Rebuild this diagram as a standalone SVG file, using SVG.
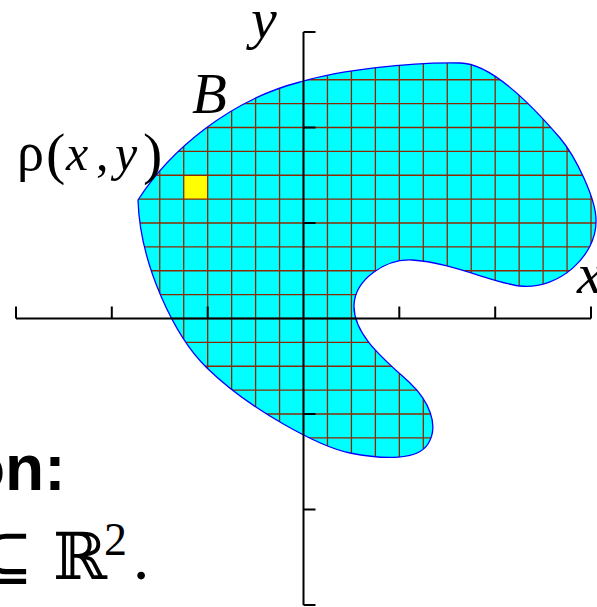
<svg xmlns="http://www.w3.org/2000/svg" width="597" height="607" viewBox="0 0 597 607">
<style>
.axis{stroke:#000;stroke-width:2;fill:none}
.grid line{stroke:#8b2a00;stroke-width:1.3}
.lbl{font-family:"Liberation Serif","DejaVu Serif",serif;font-style:italic;fill:#000}
.ser{font-family:"Liberation Serif","DejaVu Serif",serif;fill:#000}
.bold{font-family:"Liberation Sans",Arial,sans-serif;font-weight:bold;fill:#000}
</style>
<defs>
<path id="blobPath" d="M138,200 C170,150 230,100 300,82 C340,70 410,62 460,63 C490,63 530,103 560,138 C575,155.5 597,200 596,222 C596,255 560,290 520,286 C495,283.5 450,262 412,260 C385,258.6 355,280 354,305 C353,335 385,360 410,383 C428,400 440,425 428,444 C418,460 385,460 350,453 C320,447 250,410 207,368 C175,337 140,265 138,200 Z"/>
<clipPath id="blobClip"><use href="#blobPath"/></clipPath>
</defs>
<g id="region">
<use href="#blobPath" fill="#00ffff"/>
<rect x="183.7" y="175.25" width="23.96" height="23.875" fill="#ffff00"/>
<g class="grid" clip-path="url(#blobClip)">
<line x1="159.76" y1="40" x2="159.76" y2="480"/>
<line x1="183.72" y1="40" x2="183.72" y2="480"/>
<line x1="207.68" y1="40" x2="207.68" y2="480"/>
<line x1="231.64" y1="40" x2="231.64" y2="480"/>
<line x1="255.6" y1="40" x2="255.6" y2="480"/>
<line x1="279.56" y1="40" x2="279.56" y2="480"/>
<line x1="303.5" y1="40" x2="303.5" y2="480"/>
<line x1="327.46" y1="40" x2="327.46" y2="480"/>
<line x1="351.42" y1="40" x2="351.42" y2="480"/>
<line x1="375.38" y1="40" x2="375.38" y2="480"/>
<line x1="399.34" y1="40" x2="399.34" y2="480"/>
<line x1="423.3" y1="40" x2="423.3" y2="480"/>
<line x1="447.26" y1="40" x2="447.26" y2="480"/>
<line x1="471.22" y1="40" x2="471.22" y2="480"/>
<line x1="495.18" y1="40" x2="495.18" y2="480"/>
<line x1="519.14" y1="40" x2="519.14" y2="480"/>
<line x1="543.1" y1="40" x2="543.1" y2="480"/>
<line x1="567.06" y1="40" x2="567.06" y2="480"/>
<line x1="591.02" y1="40" x2="591.02" y2="480"/>
<line x1="120" y1="79.75" x2="600" y2="79.75"/>
<line x1="120" y1="103.63" x2="600" y2="103.63"/>
<line x1="120" y1="127.5" x2="600" y2="127.5"/>
<line x1="120" y1="151.38" x2="600" y2="151.38"/>
<line x1="120" y1="175.25" x2="600" y2="175.25"/>
<line x1="120" y1="199.13" x2="600" y2="199.13"/>
<line x1="120" y1="223" x2="600" y2="223"/>
<line x1="120" y1="246.88" x2="600" y2="246.88"/>
<line x1="120" y1="270.75" x2="600" y2="270.75"/>
<line x1="120" y1="294.63" x2="600" y2="294.63"/>
<line x1="120" y1="318.5" x2="600" y2="318.5"/>
<line x1="120" y1="342.38" x2="600" y2="342.38"/>
<line x1="120" y1="366.25" x2="600" y2="366.25"/>
<line x1="120" y1="390.13" x2="600" y2="390.13"/>
<line x1="120" y1="414" x2="600" y2="414"/>
<line x1="120" y1="437.88" x2="600" y2="437.88"/>
</g>
<use href="#blobPath" fill="none" stroke="#0000ff" stroke-width="1.3"/>
</g>
<g id="axes">
<path class="axis" d="M16,318.5 H591 M16,318.5 V306.5 M111.8,318.5 V306.5 M207.7,318.5 V306.5 M399.3,318.5 V306.5 M495.2,318.5 V306.5 M591,318.5 V306.5"/>
<path class="axis" d="M303.5,32 V605 M303.5,32 H315.5 M303.5,127.5 H315.5 M303.5,223 H315.5 M303.5,414 H315.5 M303.5,509.5 H315.5 M303.5,605 H315.5"/>
</g>
<g id="labels">
<text class="lbl" x="251" y="38" font-size="58">y</text>
<text class="lbl" x="192" y="113" font-size="57">B</text>
<text class="lbl" x="577" y="293" font-size="58">x</text>
<text class="ser" y="170" font-size="50"><tspan x="17" font-size="54">ρ</tspan><tspan x="46" y="173" font-size="58">(</tspan><tspan x="66" y="170" font-style="italic">x</tspan><tspan x="96">,</tspan><tspan x="115" font-style="italic">y</tspan><tspan x="143" y="173" font-size="58">)</tspan></text>
</g>
<g id="caption">
<text class="bold" x="-34" y="490" font-size="64">on:</text>
<text class="ser" y="579" font-size="65"><tspan x="33" text-anchor="end">⊆</tspan><tspan x="53">ℝ</tspan><tspan x="104" y="555" font-size="46">2</tspan><tspan x="133" y="579">.</tspan></text>
</g>
</svg>
